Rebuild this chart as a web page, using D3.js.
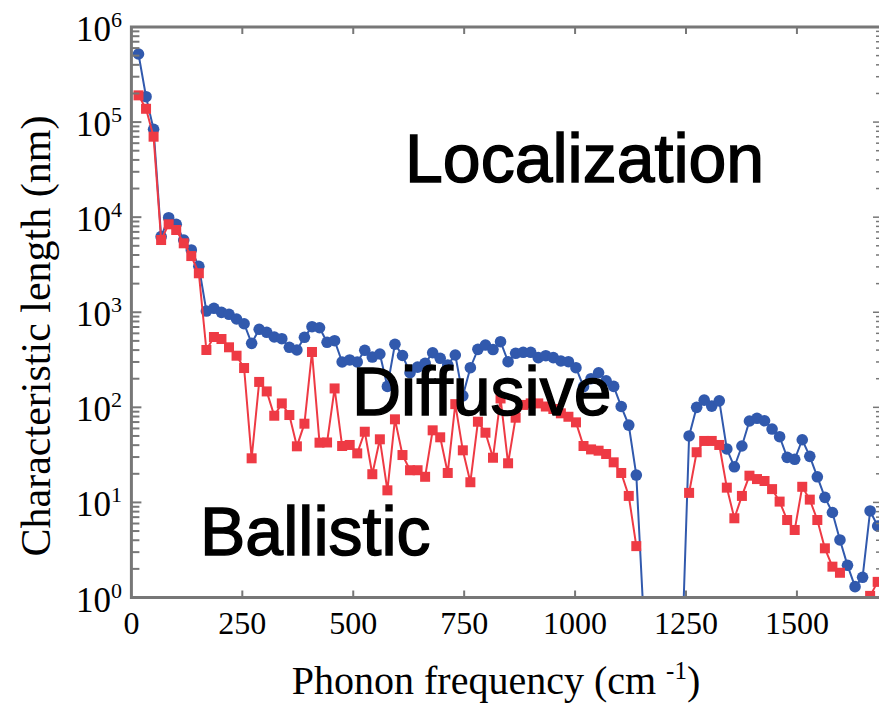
<!DOCTYPE html>
<html><head><meta charset="utf-8">
<script src="https://cdn.jsdelivr.net/npm/d3@7"></script>
<style>html,body{margin:0;padding:0;background:#fff;overflow:hidden}</style>
</head><body>
<svg id="chart" width="879" height="704"></svg>
<script>
// Phonon frequency bins (cm^-1)
const frequencies = [
  16,33,50,67,84,101,118,135,152,169,
  186,203,220,237,254,271,288,305,322,339,
  356,373,390,407,424,441,458,475,492,509,
  526,543,560,577,594,611,628,645,662,679,
  696,713,730,747,764,781,798,815,832,849,
  866,883,900,917,934,951,968,985,1002,1019,
  1036,1053,1070,1087,1104,1121,1138,1155,1172,1189,
  1206,1223,1240,1257,1274,1291,1308,1325,1342,1359,
  1376,1393,1410,1427,1444,1461,1478,1495,1512,1529,
  1546,1563,1580,1597,1614,1631,1648,1665,1682
];

// Localization length (nm), blue circles; null = no value
const localizationLength = [
  520000,185000,84000,6240,9870,8410,5750,4520,3040,1030,
  1100,998,951,849,757,471,662,615,549,527,
  428,401,545,705,687,483,502,300,315,300,
  398,338,364,166,461,351,231,265,290,375,
  328,279,355,132,261,407,452,405,490,302,
  370,379,379,333,349,333,307,302,261,165,
  200,231,190,166,102,65,19.4,0.55,null,null,
  null,null,0.2,50,100,119,103,117,36.5,23.7,
  39.2,71.8,76.7,72.3,59.1,49.1,29.8,28.4,45.6,30.5,
  18.6,11.3,7.83,4.03,2.18,1.30,1.63,8.13,5.65
];

// Mean free path (nm), red squares; null = no value
const meanFreePath = [
  191000,138000,70200,5750,8410,7330,5310,3900,2570,401,
  549,523,428,349,259,29.1,185,147,81.6,110,
  83,38.9,67.3,382,42.5,42.7,158,39.2,40.2,32.8,
  55.4,19.8,46.1,13.4,74.8,31.5,21.8,21.8,18.6,57.3,
  48.4,20.4,108,35.3,16.3,70.6,54.1,29.5,124,25.8,
  77.8,106,110,110,102,96,86.5,79.6,69.5,39.2,
  36.1,35.0,32.3,26.4,20.4,11.7,3.47,null,null,null,
  null,null,null,12.6,33.7,44.3,44.3,40.2,14.3,6.81,
  11.7,19.1,17.6,16.8,13.8,10.2,6.53,5.13,14.6,10.7,
  6.53,3.29,2.11,1.82,null,null,null,1.04,1.46
];

const xTicks = [0, 250, 500, 750, 1000, 1250, 1500];
const yExponents = [0, 1, 2, 3, 4, 5, 6];
const regionLabels = ["Localization", "Diffusive", "Ballistic"];

const svg = d3.select("#chart");
const plot = {left: 131.4, right: 881, top: 27, bottom: 597.5};
const frameColor = "#777777";
const blue = "#3159ad";
const red = "#ee3a44";

const x = d3.scaleLinear().domain([0, 1689.5]).range([plot.left, plot.right]);
const y = d3.scaleLog().domain([1, 1e6]).range([plot.bottom, plot.top]);

svg.append("defs").append("clipPath").attr("id", "plotClip")
  .append("rect")
  .attr("x", plot.left).attr("y", plot.top)
  .attr("width", plot.right - plot.left).attr("height", plot.bottom - plot.top);

const dataLayer = svg.append("g").attr("clip-path", "url(#plotClip)");

function series(values) {
  return frequencies.map((f, i) => ({f, v: values[i]}));
}
const line = d3.line()
  .defined(d => d.v != null)
  .x(d => x(d.f))
  .y(d => y(d.v));

// Localization length
const blueData = series(localizationLength);
dataLayer.append("path").datum(blueData)
  .attr("d", line).attr("fill", "none").attr("stroke", blue).attr("stroke-width", 2);
dataLayer.append("g").selectAll("circle")
  .data(blueData.filter(d => d.v != null))
  .join("circle")
  .attr("cx", d => x(d.f)).attr("cy", d => y(d.v)).attr("r", 5.8)
  .attr("fill", blue);

// Mean free path
const redData = series(meanFreePath);
dataLayer.append("path").datum(redData)
  .attr("d", line).attr("fill", "none").attr("stroke", red).attr("stroke-width", 2);
dataLayer.append("g").selectAll("rect")
  .data(redData.filter(d => d.v != null))
  .join("rect")
  .attr("x", d => x(d.f) - 5).attr("y", d => y(d.v) - 5)
  .attr("width", 10).attr("height", 10)
  .attr("fill", red);

// Minor + major log ticks
const logTicks = [];
for (let e = 0; e < 6; e++) {
  for (let m = 1; m < 10; m++) logTicks.push({v: m * Math.pow(10, e), major: m === 1});
}
logTicks.push({v: 1e6, major: true});

const axes = svg.append("g");
// left ticks
axes.append("g").selectAll("line").data(logTicks).join("line")
  .attr("x1", plot.left).attr("x2", d => plot.left + (d.major ? 10 : 8))
  .attr("y1", d => y(d.v)).attr("y2", d => y(d.v))
  .attr("stroke", frameColor).attr("stroke-width", 2);
// right ticks
axes.append("g").selectAll("line").data(logTicks).join("line")
  .attr("x1", plot.right).attr("x2", d => plot.right - (d.major ? 8 : 5))
  .attr("y1", d => y(d.v)).attr("y2", d => y(d.v))
  .attr("stroke", frameColor).attr("stroke-width", 1.5);
// bottom and top ticks
axes.append("g").selectAll("line").data(xTicks.slice(1)).join("line")
  .attr("x1", d => x(d)).attr("x2", d => x(d))
  .attr("y1", plot.bottom).attr("y2", plot.bottom - 7)
  .attr("stroke", frameColor).attr("stroke-width", 2);
axes.append("g").selectAll("line").data(xTicks.slice(1)).join("line")
  .attr("x1", d => x(d)).attr("x2", d => x(d))
  .attr("y1", plot.top).attr("y2", plot.top + 7)
  .attr("stroke", frameColor).attr("stroke-width", 2);

// frame
axes.append("rect")
  .attr("x", plot.left).attr("y", plot.top)
  .attr("width", plot.right - plot.left).attr("height", plot.bottom - plot.top)
  .attr("fill", "none").attr("stroke", frameColor).attr("stroke-width", 3);

const serif = "'Liberation Serif', 'Times New Roman', serif";

// x tick labels
svg.append("g").selectAll("text").data(xTicks).join("text")
  .attr("x", d => x(d)).attr("y", 634)
  .attr("text-anchor", "middle")
  .attr("font-family", serif).attr("font-size", 32)
  .text(d => d);

// y tick labels: 10^n
const yl = svg.append("g").selectAll("text").data(yExponents).join("text")
  .attr("x", 122).attr("y", d => y(Math.pow(10, d)) + 14)
  .attr("text-anchor", "end")
  .attr("font-family", serif).attr("font-size", 35);
yl.append("tspan").text("10");
yl.append("tspan").attr("dy", -14).attr("font-size", 22).text(d => d);

// axis titles
const xt = svg.append("text")
  .attr("x", 496).attr("y", 694)
  .attr("text-anchor", "middle")
  .attr("font-family", serif).attr("font-size", 40);
xt.append("tspan").text("Phonon frequency (cm ");
xt.append("tspan").attr("dy", -15).attr("font-size", 25).text("-1");
xt.append("tspan").attr("dy", 15).text(")");

svg.append("text")
  .attr("transform", "translate(50,336) rotate(-90)")
  .attr("text-anchor", "middle")
  .attr("font-family", serif).attr("font-size", 42)
  .text("Characteristic length (nm)");

// regime labels
const sans = "'Liberation Sans', Arial, sans-serif";
const regionPos = [[405, 182], [352, 415], [200, 555]];
svg.append("g").selectAll("text").data(regionLabels).join("text")
  .attr("x", (d, i) => regionPos[i][0]).attr("y", (d, i) => regionPos[i][1])
  .attr("font-family", sans).attr("font-size", 68)
  .attr("fill", "#000").attr("stroke", "#000").attr("stroke-width", 1.4)
  .text(d => d);
</script>
</body></html>
